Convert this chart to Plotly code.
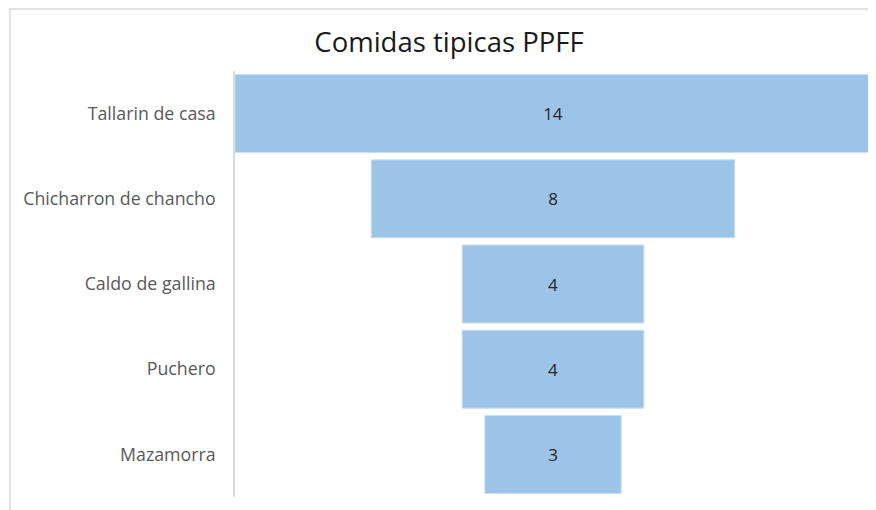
import plotly.graph_objects as go

categories = ["Tallarin de casa", "Chicharron de chancho", "Caldo de gallina", "Puchero", "Mazamorra"]
values = [14, 8, 4, 4, 3]
title_text = "Comidas tipicas PPFF"

# page renders figure with an 8px body offset
OFF = 8
W, H = 876 - OFF, 510 - OFF
ml, mr, mt, mb = 235 - OFF, 5, 71 - OFF, 13
pw, ph = W - ml - mr, H - mt - mb

def px_x(px):
    return (px - OFF - ml) / pw

def px_y(py):
    return (H - mb - (py - OFF)) / ph

FONT = "Open Sans, Lato, sans-serif"

fig = go.Figure(go.Funnel(
    y=categories,
    x=values,
    textinfo="value",
    textposition="inside",
    insidetextanchor="middle",
    textfont=dict(family=FONT, size=17, color="#262626"),
    marker=dict(color="#9DC3E6", line=dict(color="#c9def2", width=1)),
    connector=dict(visible=False),
    hoverinfo="y+x",
))

half = max(values) / 2
fig.update_layout(
    width=W, height=H,
    margin=dict(l=ml, r=mr, t=mt, b=mb),
    paper_bgcolor="white",
    plot_bgcolor="white",
    funnelgap=0.085,
    showlegend=False,
    title=dict(text=title_text, x=(449 - OFF) / W, xanchor="center", y=1 - (42 - OFF) / H, yanchor="middle",
               font=dict(family=FONT, size=27.5, color="#1a1a1a")),
    xaxis=dict(visible=False, range=[-half, half]),
    yaxis=dict(showline=True, linecolor="#d9d9d9", linewidth=1.5, showgrid=False,
               ticks="", ticklabelstandoff=14,
               tickfont=dict(family=FONT, size=17.8, color="#595959")),
    shapes=[dict(type="rect", xref="paper", yref="paper",
                 x0=px_x(10), x1=px_x(890), y0=px_y(9), y1=px_y(530),
                 line=dict(color="#d9d9d9", width=1.5), fillcolor="rgba(0,0,0,0)", layer="below")],
)

fig.write_html("out.html")
